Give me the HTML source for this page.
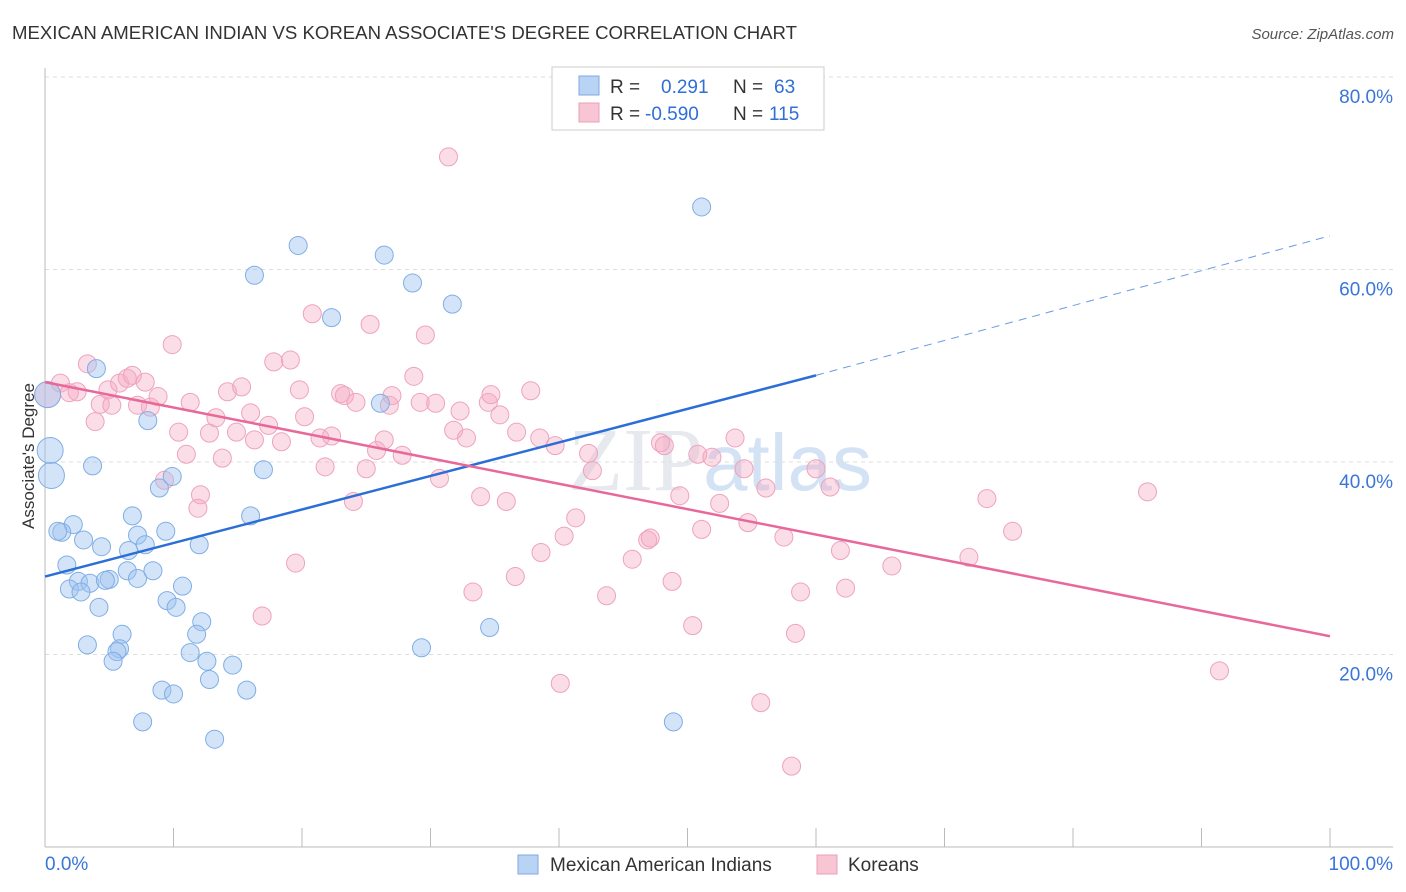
<!DOCTYPE html>
<html><head><meta charset="utf-8"><style>
body{margin:0;background:#fff;font-family:"Liberation Sans",sans-serif;}
svg{display:block}
</style></head><body>
<svg id="chart" width="1406" height="892">
<text x="12" y="39" font-size="18" fill="#333" textLength="785" lengthAdjust="spacingAndGlyphs">MEXICAN AMERICAN INDIAN VS KOREAN ASSOCIATE'S DEGREE CORRELATION CHART</text>
<text x="1394" y="39" font-size="15" fill="#555" text-anchor="end" font-style="italic">Source: ZipAtlas.com</text>
<text x="34" y="456" font-size="17" fill="#333" text-anchor="middle" transform="rotate(-90 34 456)">Associate's Degree</text>
<text x="720" y="490" font-size="90" fill="#e6e9ee" text-anchor="middle" font-family="Liberation Serif">ZIP<tspan fill="#d3e2f5" font-family="Liberation Sans" font-size="80">atlas</tspan></text>
<g id="grid"></g><g id="axes"></g><g id="pts"></g><g id="trend"></g>
<g>
<rect x="552" y="67" width="272" height="63" fill="#fff" stroke="#ccc"/>
<rect x="579" y="76" width="20" height="19" fill="#b9d3f5" stroke="#7fa9e0"/>
<rect x="579" y="103" width="20" height="19" fill="#f8c5d5" stroke="#ec9fb8"/>
<text x="610" y="93" font-size="19" fill="#333">R = <tspan x="661" fill="#2f6fd6">0.291</tspan><tspan x="733" fill="#333">N = </tspan><tspan x="774" fill="#2f6fd6">63</tspan></text>
<text x="610" y="120" font-size="19" fill="#333">R = <tspan x="645" fill="#2f6fd6">-0.590</tspan><tspan x="733" fill="#333">N = </tspan><tspan x="769" fill="#2f6fd6">115</tspan></text>
</g>
<g>
<rect x="518" y="855" width="20" height="19" fill="#b9d3f5" stroke="#7fa9e0"/>
<text x="550" y="871" font-size="19" fill="#333">Mexican American Indians</text>
<rect x="817" y="855" width="20" height="19" fill="#f8c5d5" stroke="#ec9fb8"/>
<text x="848" y="871" font-size="19" fill="#333">Koreans</text>
</g>
</svg>
<script>
const yTicks=[20,40,60,80];
const yTickLabels=["20.0%","40.0%","60.0%","80.0%"];
const xTickLabels=["0.0%","100.0%"];
const blueX=[0.4,0.5,4.0,3.7,8.0,8.9,9.9,6.8,9.4,7.2,7.8,6.5,4.4,2.2,1.3,1.0,3.0,1.7,2.6,3.5,5.0,4.7,6.4,7.2,8.4,10.7,1.9,2.8,4.2,9.5,10.2,12.0,12.2,11.8,6.0,3.3,5.8,5.6,5.3,11.3,12.6,14.6,12.8,9.1,10.0,15.7,7.6,13.2,17.0,16.0,16.3,19.7,22.3,26.4,28.6,31.7,26.1,34.6,29.3,51.1,48.9,0.2];
const blueY=[41.2,38.6,49.7,39.6,44.3,37.3,38.5,34.4,32.8,32.4,31.4,30.8,31.2,33.5,32.7,32.8,31.9,29.3,27.6,27.4,27.8,27.7,28.7,27.9,28.7,27.1,26.8,26.5,24.9,25.6,24.9,31.4,23.4,22.1,22.1,21.0,20.6,20.3,19.3,20.2,19.3,18.9,17.4,16.3,15.9,16.3,13.0,11.2,39.2,34.4,59.4,62.5,55.0,61.5,58.6,56.4,46.1,22.8,20.7,66.5,13.0,47.0];
const pinkX=[0.2,1.2,1.9,2.5,3.3,3.9,4.3,5.2,4.9,5.8,6.4,6.8,7.8,7.2,8.2,8.8,9.9,10.4,11.0,9.3,12.1,11.9,11.3,12.8,13.3,13.8,14.2,14.9,15.3,16.0,16.3,16.9,17.4,17.8,19.1,18.4,19.5,19.8,20.2,20.8,21.4,21.8,22.3,23.0,23.3,24.0,24.2,25.0,25.3,25.8,26.4,26.8,27.0,27.8,28.7,29.2,29.6,30.4,30.7,31.4,31.8,32.3,32.8,33.3,33.9,34.5,34.7,35.4,35.9,36.6,36.7,37.8,38.5,38.6,39.7,40.1,40.4,41.3,42.3,42.6,43.7,45.7,46.9,47.1,47.9,48.2,48.8,49.4,50.4,50.8,51.1,51.9,52.5,53.7,54.4,54.7,55.7,56.1,57.5,58.4,58.8,58.1,60.0,61.1,61.9,62.3,65.9,71.9,73.3,75.3,85.8,91.4];
const pinkY=[47.0,48.2,47.2,47.3,50.2,44.2,46.0,45.9,47.5,48.2,48.7,49.0,48.3,45.9,45.7,46.8,52.2,43.1,40.8,38.1,36.6,35.2,46.2,43.0,44.6,40.4,47.3,43.1,47.8,45.1,42.3,24.0,43.8,50.4,50.6,42.1,29.5,47.5,44.7,55.4,42.5,39.5,42.7,47.1,46.9,35.9,46.2,39.3,54.3,41.2,42.3,45.9,46.9,40.7,48.9,46.2,53.2,46.1,38.3,71.7,43.3,45.3,42.5,26.5,36.4,46.2,47.0,44.9,35.9,28.1,43.1,47.4,42.5,30.6,41.7,17.0,32.3,34.2,40.9,39.1,26.1,29.9,31.9,32.1,42.0,41.7,27.6,36.5,23.0,40.8,33.0,40.5,35.7,42.5,39.3,33.7,15.0,37.3,32.2,22.2,26.5,8.4,39.3,37.4,30.8,26.9,29.2,30.1,36.2,32.8,36.9,18.3];
const blueTrend=[28.1,49.0,63.5];
const blueTrendX=[0,60,100];
const pinkTrend=[48.3,21.9];
const pinkTrendX=[0,100];
const NS="http://www.w3.org/2000/svg";
const xs=v=>45+v*12.85, ys=v=>847-v*9.625;
function mk(tag,attrs,parent){const e=document.createElementNS(NS,tag);for(const k in attrs)e.setAttribute(k,attrs[k]);parent.appendChild(e);return e;}
const grid=document.getElementById('grid'),axes=document.getElementById('axes'),pts=document.getElementById('pts'),tr=document.getElementById('trend');
yTicks.forEach((t,i)=>{
 const l=mk('line',{x1:45,x2:1393,y1:ys(t),y2:ys(t),stroke:'#ddd','stroke-dasharray':'4,4'},grid);
 
 
 const tx=mk('text',{x:1393,y:ys(t)+26,'font-size':19,fill:'#3a75d8','text-anchor':'end'},axes);
 tx.textContent=yTickLabels[i];
 
 
});
const ax=mk('line',{x1:45,x2:45,y1:68,y2:847,stroke:'#bbb'},axes);


const bx=mk('line',{x1:45,x2:1393,y1:847,y2:847,stroke:'#bbb'},axes);


for(let i=0;i<=10;i++){const t=mk('line',{x1:xs(i*10),x2:xs(i*10),y1:828,y2:847,stroke:'#bbb'},axes);
 
 }
[[0,'start',45],[100,'end',1393]].forEach((d,i)=>{const t=mk('text',{x:d[2],y:870,'font-size':19,fill:'#3a75d8','text-anchor':d[1]},axes);t.textContent=xTickLabels[i];
 
 });
function dots(X,Y,fill,stroke,name){X.forEach((x,i)=>{const r=(x<1)?13:9;
 const c=mk('circle',{cx:xs(x),cy:ys(Y[i]),r:r,fill:fill,stroke:stroke,'stroke-width':1},pts);
 
 });}
dots(pinkX,pinkY,'rgba(245,170,195,0.4)','#eea3bc','korean-point');
dots(blueX,blueY,'rgba(160,195,240,0.45)','#7faee6','mexican-point');
const b1=mk('line',{x1:xs(blueTrendX[0]),y1:ys(blueTrend[0]),x2:xs(blueTrendX[1]),y2:ys(blueTrend[1]),stroke:'#2b6fd6','stroke-width':2.5},tr);


const b2=mk('line',{x1:xs(blueTrendX[1]),y1:ys(blueTrend[1]),x2:xs(blueTrendX[2]),y2:ys(blueTrend[2]),stroke:'#6b9be0','stroke-width':1,'stroke-dasharray':'8,6'},tr);


const p1=mk('line',{x1:xs(pinkTrendX[0]),y1:ys(pinkTrend[0]),x2:xs(pinkTrendX[1]),y2:ys(pinkTrend[1]),stroke:'#e8689a','stroke-width':2.5},tr);


</script>
</body></html>
